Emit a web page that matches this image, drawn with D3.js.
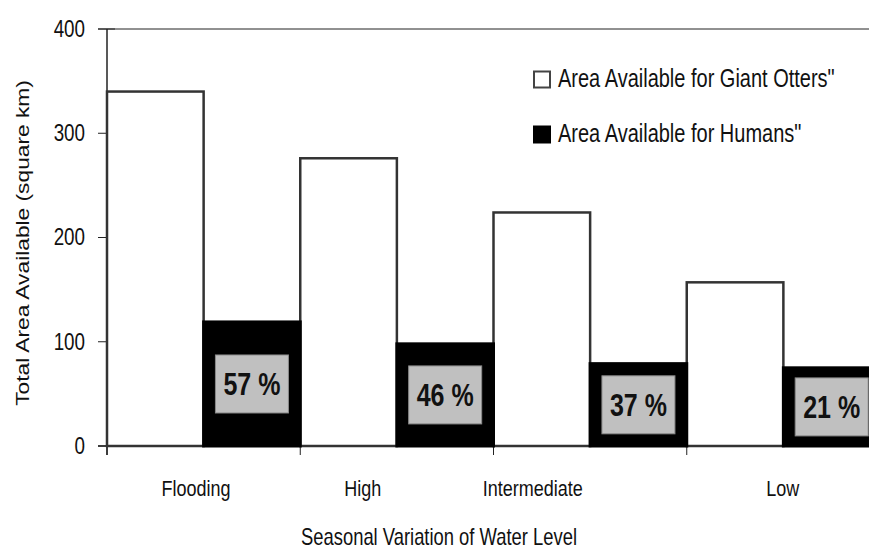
<!DOCTYPE html>
<html>
<head>
<meta charset="utf-8">
<script src="https://cdn.jsdelivr.net/npm/d3@7"></script>
<style>
  html, body { margin: 0; padding: 0; background: #fff; }
  svg { display: block; font-family: "Liberation Sans", Arial, sans-serif; }
</style>
</head>
<body>
<svg id="chart" width="869" height="552"></svg>
<script>
// ---- data ----
const categories = ["Flooding", "High", "Intermediate", "Low"];
const otterArea = [340, 276, 224, 157];
const humanArea = [119, 98, 79, 75];
const percentLabels = ["57 %", "46 %", "37 %", "21 %"];
const yTicks = [0, 100, 200, 300, 400];
const seriesNames = ["Area Available for Giant Otters\"", "Area Available for Humans\""];
const xTitle = "Seasonal Variation of Water Level";
const yTitle = "Total Area Available (square km)";

(function () {
// ---- layout ----
const svg = d3.select("#chart");
const mLeft = 107, mRight = 880, mTop = 29, mBottom = 446;
const SY = 1.25; // vertical stretch of the text, as in the reference

const x = d3.scaleBand().domain(categories).range([mLeft, mRight]).padding(0);
const sub = d3.scaleBand().domain(["otter", "human"]).range([0, x.bandwidth()]).padding(0);
const y = d3.scaleLinear().domain([0, 400]).range([mBottom, mTop]);

function txt(px, py, s, size, anchor, dy, bold) {
  return svg.append("text")
    .attr("transform", `translate(${px},${py}) scale(1,${SY})`)
    .attr("dy", dy).attr("text-anchor", anchor).attr("font-size", size)
    .attr("font-weight", bold ? "bold" : "normal").attr("fill", "#111").text(s);
}

// frame lines
svg.append("line").attr("x1", 98).attr("x2", mRight).attr("y1", y(400)).attr("y2", y(400))
  .attr("stroke", "#222").attr("stroke-width", 1);
svg.append("line").attr("x1", 98).attr("x2", mRight).attr("y1", y(0)).attr("y2", y(0))
  .attr("stroke", "#222").attr("stroke-width", 1.5);
svg.append("line").attr("x1", mLeft).attr("x2", mLeft).attr("y1", y(400)).attr("y2", y(0) + 9)
  .attr("stroke", "#222").attr("stroke-width", 1.5);

// y ticks
yTicks.forEach(t => {
  svg.append("line").attr("x1", 98).attr("x2", 115).attr("y1", y(t)).attr("y2", y(t))
    .attr("stroke", "#222").attr("stroke-width", 1);
  txt(85, y(t), t, 18.8, "end", "0.33em");
});

// x ticks
categories.forEach(c => {
  svg.append("line").attr("x1", x(c)).attr("x2", x(c)).attr("y1", y(0)).attr("y2", y(0) + 9)
    .attr("stroke", "#222").attr("stroke-width", 1);
});
const labelFrac = [0.46, 0.323, 0.203, 0.497];
categories.forEach((c, i) => {
  txt(x(c) + labelFrac[i] * x.bandwidth(), 496, c, 18, "middle", 0);
});

// bars
categories.forEach((c, i) => {
  svg.append("rect")
    .attr("x", x(c) + sub("otter")).attr("y", y(otterArea[i]))
    .attr("width", sub.bandwidth()).attr("height", y(0) - y(otterArea[i]))
    .attr("fill", "#fff").attr("stroke", "#333").attr("stroke-width", 2.5);
});
categories.forEach((c, i) => {
  svg.append("rect")
    .attr("x", x(c) + sub("human")).attr("y", y(humanArea[i]))
    .attr("width", sub.bandwidth()).attr("height", y(0) - y(humanArea[i]))
    .attr("fill", "#000").attr("stroke", "#000").attr("stroke-width", 3);
});

// percent labels
const bw = 73, bh = 58;
categories.forEach((c, i) => {
  const cx = x(c) + sub("human") + sub.bandwidth() / 2;
  const cy = (y(humanArea[i]) + y(0)) / 2;
  svg.append("rect").attr("x", cx - bw / 2).attr("y", cy - bh / 2)
    .attr("width", bw).attr("height", bh)
    .attr("fill", "#c0c0c0").attr("stroke", "#8a8a8a").attr("stroke-width", 1);
  txt(cx, cy, percentLabels[i], 25, "middle", "0.36em", true);
});

// legend
seriesNames.forEach((s, i) => {
  const ly = 79.5 + i * 55;
  svg.append("rect").attr("x", 534).attr("y", ly - 8).attr("width", 16).attr("height", 16)
    .attr("fill", i === 0 ? "#fff" : "#000").attr("stroke", i === 0 ? "#444" : "#000")
    .attr("stroke-width", 2);
  txt(558, ly + 7, s, 20, "start", 0);
});

// axis titles
txt(439, 545, xTitle, 18.4, "middle", 0);
svg.append("text")
  .attr("transform", `translate(29, 243) scale(1,${SY}) rotate(-90)`)
  .attr("text-anchor", "middle").attr("font-size", 18.2).attr("fill", "#111").text(yTitle);
})();
</script>
</body>
</html>
